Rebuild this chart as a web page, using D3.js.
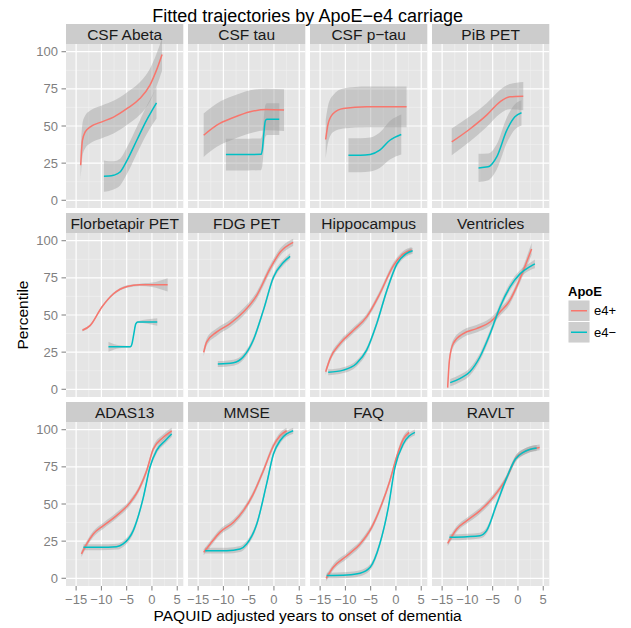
<!DOCTYPE html>
<html><head><meta charset="utf-8">
<script src="https://cdn.jsdelivr.net/npm/d3@7"></script>
<style>
body{margin:0;background:#fff;}
text{font-family:"Liberation Sans",Arial,Helvetica,sans-serif;}
</style>
</head><body><svg id="c" width="631" height="628"></svg>
<script>
// ---------- data ----------
const panelNames = ["CSF Abeta","CSF tau","CSF p-tau","PiB PET",
  "Florbetapir PET","FDG PET","Hippocampus","Ventricles",
  "ADAS13","MMSE","FAQ","RAVLT"];
const stripLabels = ["CSF Abeta","CSF tau","CSF p\u2212tau","PiB PET",
  "Florbetapir PET","FDG PET","Hippocampus","Ventricles",
  "ADAS13","MMSE","FAQ","RAVLT"];
const groupNames = ["e4+","e4\u2212"];
const groupColors = ["#F8766D","#00BFC4"];
const xTicks = [-15,-10,-5,0,5];
const xTickLabels = ["\u221215","\u221210","\u22125","0","5"];
const yTicks = [0,25,50,75,100];
const yTickLabels = ["0","25","50","75","100"];
const titleText = "Fitted trajectories by ApoE\u2212e4 carriage";
const xTitle = "PAQUID adjusted years to onset of dementia";
const yTitle = "Percentile";
const legendTitle = "ApoE";

// each row: [years, percentile, half-width of confidence band]
const csfAbetaPos = [[-14.1,23.6,10],[-13.75,40.4,11],[-13.2,46,11],[-12.2,49.4,11],[-9.9,52.8,11],[-7.6,56,11],[-4.9,61.8,11],[-2.4,68.5,11],[-0.4,77.5,11],[0.9,87.6,11],[2.0,98.2,11]];
const csfAbetaNeg = [[-9.5,16.2,10.5],[-8.5,16.3,10],[-7.6,16.8,9.5],[-6.3,19,9],[-4.9,27,9],[-3.0,40.4,9],[-1.05,54,9.5],[0.26,61.8,10],[0.9,65.6,10.5]];
const csfTauPos = [[-13.9,43.8,14.6],[-11.3,50.6,14.6],[-8.0,55.7,14.6],[-4.7,59.6,14.5],[-1.45,61.1,14],[2.0,60.7,14]];
const csfTauNeg = [[-9.5,30.8,10.7],[-5.0,30.8,10.7],[-2.6,30.9,10.7],[-2.3,34,10.7],[-2.0,45,10.7],[-1.7,53.5,10.7],[-1.4,54.6,10.7],[1.05,54.6,10.7]];
const csfPtauPos = [[-13.9,40.9,13],[-13.4,51.7,12.5],[-12.4,58.4,12.5],[-10.4,61.8,13.5],[-5.8,62.9,13.7],[2.1,62.9,13.7]];
const csfPtauNeg = [[-9.4,30.3,11.5],[-7.0,30.3,11.5],[-5.1,30.8,11.5],[-3.2,33.7,12],[-1.2,40.4,13],[1.05,44.3,13.5]];
const pibPos = [[-13.1,39.3,9],[-9.5,48,8.5],[-6.2,57.3,8],[-3.55,66.3,8],[-1.6,69.7,8.5],[1.05,70.1,9.5]];
const pibNeg = [[-7.8,21.8,9.5],[-5.9,22.5,9],[-4.2,29.2,8.5],[-2.2,47.2,8.5],[-0.6,56.2,8.5],[0.7,58.9,8.5]];
const florbetapirPos = [[-13.75,39.7,0.8],[-12.2,43,0.8],[-9.9,55.4,0.8],[-7.6,64.3,0.8],[-4.9,69.2,0.8],[-2.4,70.3,0.8],[0,70.3,1.5],[3.1,70.3,4.5]];
const florbetapirNeg = [[-8.6,28.6,3.4],[-6.5,28.6,1],[-4.3,28.6,0.5],[-4.0,30,0.5],[-3.6,37,0.5],[-3.2,44,0.5],[-2.8,45.3,0.5],[1.05,45.3,2.5]];
const fdgPos = [[-13.9,24.8,2.5],[-13.3,31.9,2.5],[-11.3,38.6,2.5],[-8.7,44.2,2.5],[-6.05,52,2.5],[-3.4,63.2,2.5],[-0.8,81,2.5],[1.2,92.2,2.5],[3.8,98.9,2.5]];
const fdgNeg = [[-11.1,17,2],[-8.0,17.9,2],[-6.05,21.9,2],[-4.1,33,2],[-2.1,53.1,2],[-0.1,75.4,2],[1.9,85.5,2],[3.2,89.5,2]];
const hippoPos = [[-13.9,11.8,2],[-13.0,20.8,2],[-11.05,30.8,2],[-8.4,39.7,2],[-5.8,48.7,2],[-3.2,64.3,2],[-0.5,83.3,2],[1.45,91.1,2],[3.1,93.75,2]];
const hippoNeg = [[-13.4,11.4,2],[-10.4,12.9,2],[-7.8,17.4,2],[-5.8,26.3,2],[-3.8,44.2,2],[-1.8,66.5,2],[0.2,84.4,2],[2.1,91.5,2],[3.3,93.3,2]];
const ventPos = [[-13.9,1.1,2.5],[-13.55,19.6,2.5],[-12.8,30.8,2.5],[-10.8,37.5,2.5],[-8.2,40.8,2.5],[-5.5,45.3,2.5],[-3.55,52,2.5],[-1.6,59.8,2.5],[-0.3,68.75,2.5],[1.05,79.9,3],[2.7,94.4,4]];
const ventNeg = [[-13.4,4.5,2.5],[-11.4,7.4,2.5],[-9.5,11.8,2.5],[-7.5,21.9,2.5],[-5.5,37.5,2.5],[-3.55,55.4,2.5],[-1.6,68.75,2.5],[0.4,77.7,2.5],[2.4,82.6,2.5],[3.35,84.4,3]];
const adasPos = [[-13.95,16.4,2],[-12.9,23.1,2],[-11.6,29.8,2],[-9.6,35.4,2],[-7.0,42.2,2],[-4.3,51.1,2],[-2.4,61.2,2],[-1.05,72.4,2],[0.26,87,2],[2.2,94.8,2],[3.9,99.3,2]];
const adasNeg = [[-13.55,20.9,2],[-10.3,20.9,2],[-7.0,21.3,2],[-5.7,23.1,2],[-3.7,32.1,2],[-1.7,54.5,2],[-0.4,74.7,2],[0.9,85.9,2],[2.6,92.6,2],[3.9,97.1,2]];
const mmsePos = [[-13.9,17.5,2],[-12.6,23.1,2],[-10.7,30.9,2],[-8.0,37.7,2],[-6.05,45.5,2],[-4.1,56.7,2],[-2.1,72.4,2],[-0.1,89.2,2],[1.2,96,2],[2.5,99.3,2]];
const mmseNeg = [[-13.6,18.6,2],[-9.3,18.6,2],[-6.7,19.7,2],[-5.4,23.1,2],[-3.4,36.5,2],[-1.45,63.5,2],[-0.1,83.6,2],[1.2,92.6,2],[3.8,99.3,2]];
const faqPos = [[-13.8,0,2],[-12.4,7.4,2],[-9.7,15.2,2],[-7.1,23.1,2],[-4.8,34.3,2],[-2.8,50,2],[-1.2,65.7,2],[0.1,81.4,2],[1.45,93.7,2],[2.6,98.2,2]];
const faqNeg = [[-13.7,1.8,2],[-9.7,2.2,2],[-7.1,3.4,2],[-5.1,7.4,2],[-3.2,23.1,2],[-1.5,47.8,2],[-0.2,74.7,2],[1.45,90.4,2],[3.75,98.2,2]];
const ravltPos = [[-13.9,23.5,2],[-12.1,33.2,2],[-10.1,38.8,2],[-7.5,45.5,2],[-4.9,54.5,2],[-2.2,67.9,2],[-0.3,81.4,2],[1.7,85.9,2],[4.3,88.1,2]];
const ravltNeg = [[-13.55,27.6,2],[-10.1,28,2],[-7.5,28.7,2],[-6.2,32.1,2],[-4.2,50,2],[-2.2,67.9,2],[-0.5,80.3,2],[1.05,84.8,2],[3.7,87.7,2]];

const seriesByPanel = [
  [csfAbetaPos,csfAbetaNeg],[csfTauPos,csfTauNeg],[csfPtauPos,csfPtauNeg],[pibPos,pibNeg],
  [florbetapirPos,florbetapirNeg],[fdgPos,fdgNeg],[hippoPos,hippoNeg],[ventPos,ventNeg],
  [adasPos,adasNeg],[mmsePos,mmseNeg],[faqPos,faqNeg],[ravltPos,ravltNeg]
];

// ---------- layout ----------
const svg = d3.select("#c");
const left0 = 66, colStep = 122, pw = 117.3;
const top0 = 44, rowStep = 189, ph = 164, stripH = 20;
const x = d3.scaleLinear().domain([-17, 6.2]).range([0, pw]);
const y = d3.scaleLinear().domain([-5.2, 105.2]).range([ph, 0]);
const xMinor = [-12.5,-7.5,-2.5,2.5];
const yMinor = [12.5,37.5,62.5,87.5];
const tickCol = "#7F7F7F";

svg.append("rect").attr("width",631).attr("height",628).attr("fill","#fff");

const line = d3.line().x(d=>x(d[0])).y(d=>y(d[1])).curve(d3.curveMonotoneX);
const area = d3.area().x(d=>x(d[0])).y0(d=>y(d[1]-d[2])).y1(d=>y(d[1]+d[2])).curve(d3.curveMonotoneX);

panelNames.forEach((name,i)=>{
  const c = i%4, r = Math.floor(i/4);
  const g = svg.append("g").attr("transform",`translate(${left0+c*colStep},${top0+r*rowStep})`);
  // strip
  g.append("rect").attr("x",0).attr("y",-stripH).attr("width",pw).attr("height",stripH).attr("fill","#CCCCCC");
  g.append("text").attr("x",pw/2).attr("y",-stripH/2).attr("text-anchor","middle")
    .attr("dominant-baseline","central").attr("font-size",15.5).attr("fill","#1A1A1A").text(stripLabels[i]);
  // panel bg
  g.append("rect").attr("width",pw).attr("height",ph).attr("fill","#E5E5E5");
  xMinor.forEach(v=>g.append("line").attr("x1",x(v)).attr("x2",x(v)).attr("y1",0).attr("y2",ph).attr("stroke","#F2F2F2").attr("stroke-width",0.6));
  yMinor.forEach(v=>g.append("line").attr("y1",y(v)).attr("y2",y(v)).attr("x1",0).attr("x2",pw).attr("stroke","#F2F2F2").attr("stroke-width",0.6));
  xTicks.forEach(v=>g.append("line").attr("x1",x(v)).attr("x2",x(v)).attr("y1",0).attr("y2",ph).attr("stroke","#fff").attr("stroke-width",1.2));
  yTicks.forEach(v=>g.append("line").attr("y1",y(v)).attr("y2",y(v)).attr("x1",0).attr("x2",pw).attr("stroke","#fff").attr("stroke-width",1.2));
  const ser = seriesByPanel[i];
  // ribbons
  ser.forEach(s=>g.append("path").attr("d",area(s)).attr("fill","#999999").attr("fill-opacity",0.4));
  ser.forEach((s,k)=>g.append("path").attr("d",line(s)).attr("fill","none").attr("stroke",groupColors[k]).attr("stroke-width",1.5));
  // y axis
  if(c===0){
    yTicks.forEach((v,k)=>{
      g.append("line").attr("x1",-4.5).attr("x2",0).attr("y1",y(v)).attr("y2",y(v)).attr("stroke",tickCol).attr("stroke-width",1);
      g.append("text").attr("x",-8).attr("y",y(v)).attr("text-anchor","end").attr("dominant-baseline","central")
        .attr("font-size",13).attr("fill",tickCol).text(yTickLabels[k]);
    });
  }
  if(r===2){
    xTicks.forEach((v,k)=>{
      g.append("line").attr("x1",x(v)).attr("x2",x(v)).attr("y1",ph).attr("y2",ph+4.5).attr("stroke",tickCol).attr("stroke-width",1);
      g.append("text").attr("x",x(v)).attr("y",ph+13).attr("text-anchor","middle").attr("dominant-baseline","central")
        .attr("font-size",13).attr("fill",tickCol).text(xTickLabels[k]);
    });
  }
});

// titles
const plotCx = left0 + (3*colStep + pw)/2;
svg.append("text").attr("x",plotCx).attr("y",15.5).attr("text-anchor","middle").attr("dominant-baseline","central")
  .attr("font-size",18).attr("fill","#000").text(titleText);
svg.append("text").attr("x",plotCx).attr("y",615).attr("text-anchor","middle").attr("dominant-baseline","central")
  .attr("font-size",15.5).attr("fill","#000").text(xTitle);
svg.append("text").attr("transform",`translate(22,${top0 + (2*rowStep+ph)/2}) rotate(-90)`).attr("text-anchor","middle")
  .attr("dominant-baseline","central").attr("font-size",15.5).attr("fill","#000").text(yTitle);

// legend
const lg = svg.append("g").attr("transform","translate(568,300)");
lg.append("text").attr("x",0).attr("y",-9).attr("dominant-baseline","central").attr("font-size",13).attr("font-weight","bold").text(legendTitle);
groupNames.forEach((nm,k)=>{
  const ky = k*21.5;
  lg.append("rect").attr("x",0).attr("y",ky).attr("width",22).attr("height",21.5).attr("fill","#F2F2F2").attr("stroke","#fff").attr("stroke-width",1);
  lg.append("rect").attr("x",0.5).attr("y",ky+0.5).attr("width",21).attr("height",20.5).attr("fill","#999999").attr("fill-opacity",0.4);
  lg.append("line").attr("x1",3).attr("x2",19).attr("y1",ky+10.75).attr("y2",ky+10.75).attr("stroke",groupColors[k]).attr("stroke-width",1.5);
  lg.append("text").attr("x",26).attr("y",ky+10.75).attr("dominant-baseline","central").attr("font-size",13).attr("fill","#000").text(nm);
});
</script>
</body></html>
